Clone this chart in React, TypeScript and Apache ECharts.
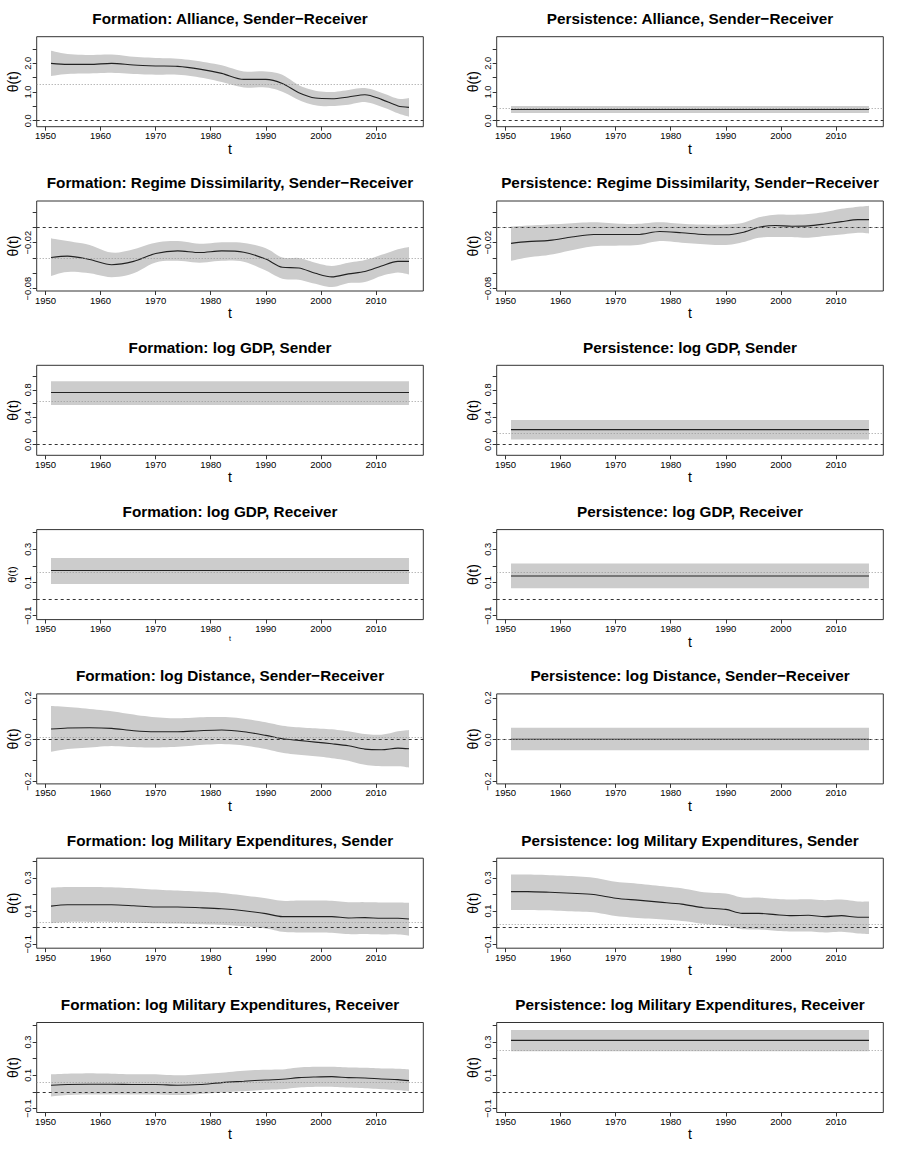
import React, { useEffect, useRef } from "react";
import * as echarts from "echarts";

// ---------------- data ----------------
const years = [1951, 1954, 1958, 1962, 1966, 1970, 1974, 1978, 1982, 1986, 1990, 1993, 1996, 1999, 2002, 2005, 2008, 2011, 2014, 2016];
const yearsFlat = [1951, 2016];
const xTicks = [1950, 1960, 1970, 1980, 1990, 2000, 2010];

const titles = [
  "Formation: Alliance, Sender\u2212Receiver",
  "Persistence: Alliance, Sender\u2212Receiver",
  "Formation: Regime Dissimilarity, Sender\u2212Receiver",
  "Persistence: Regime Dissimilarity, Sender\u2212Receiver",
  "Formation: log GDP, Sender",
  "Persistence: log GDP, Sender",
  "Formation: log GDP, Receiver",
  "Persistence: log GDP, Receiver",
  "Formation: log Distance, Sender\u2212Receiver",
  "Persistence: log Distance, Sender\u2212Receiver",
  "Formation: log Military Expenditures, Sender",
  "Persistence: log Military Expenditures, Sender",
  "Formation: log Military Expenditures, Receiver",
  "Persistence: log Military Expenditures, Receiver",
];

const formAllianceEst = [2.0, 1.965, 1.965, 2.0, 1.94, 1.91, 1.895, 1.8, 1.65, 1.44, 1.44, 1.3, 0.977, 0.79, 0.767, 0.826, 0.907, 0.744, 0.512, 0.465];
const formAllianceHi = [2.44, 2.33, 2.29, 2.31, 2.23, 2.19, 2.16, 2.07, 1.93, 1.72, 1.72, 1.6, 1.24, 1.047, 1.0, 1.07, 1.14, 0.977, 0.767, 0.79];
const formAllianceLo = [1.56, 1.63, 1.65, 1.67, 1.63, 1.605, 1.605, 1.51, 1.35, 1.16, 1.16, 1.01, 0.72, 0.535, 0.51, 0.56, 0.65, 0.49, 0.256, 0.14];

const persAllianceEst = [0.39, 0.39];
const persAllianceHi = [0.51, 0.51];
const persAllianceLo = [0.27, 0.27];

const formRegimeEst = [-0.0393, -0.0376, -0.0419, -0.0487, -0.0444, -0.0341, -0.0307, -0.0329, -0.0307, -0.0324, -0.0414, -0.0521, -0.053, -0.0599, -0.0646, -0.0607, -0.0577, -0.0504, -0.0444, -0.0444];
const formRegimeHi = [-0.0144, -0.0179, -0.023, -0.0329, -0.0286, -0.02, -0.0179, -0.0213, -0.0196, -0.0204, -0.0273, -0.0393, -0.0401, -0.0461, -0.0504, -0.0461, -0.0427, -0.0359, -0.0286, -0.0256];
const formRegimeLo = [-0.0633, -0.0581, -0.0599, -0.065, -0.0599, -0.0457, -0.0436, -0.0461, -0.0436, -0.0449, -0.0564, -0.0671, -0.0684, -0.0736, -0.0779, -0.0727, -0.0714, -0.0633, -0.059, -0.0616];

const persRegimeEst = [-0.0209, -0.0187, -0.017, -0.0127, -0.0093, -0.0093, -0.0093, -0.0054, -0.0071, -0.0093, -0.0097, -0.0067, 0.0001, 0.0023, 0.0014, 0.0019, 0.0044, 0.0074, 0.01, 0.01];
const persRegimeHi = [0.001, 0.0023, 0.0036, 0.0053, 0.0066, 0.0049, 0.0045, 0.0066, 0.0045, 0.0036, 0.0036, 0.0057, 0.013, 0.0164, 0.0164, 0.0173, 0.0199, 0.0241, 0.0267, 0.028];
const persRegimeLo = [-0.0436, -0.0393, -0.0359, -0.0299, -0.0247, -0.0239, -0.023, -0.0179, -0.02, -0.0221, -0.023, -0.0196, -0.0136, -0.0127, -0.0127, -0.0136, -0.0114, -0.0093, -0.0071, -0.008];

const formGdpSenderEst = [0.761, 0.761];
const formGdpSenderHi = [0.925, 0.925];
const formGdpSenderLo = [0.578, 0.578];

const persGdpSenderEst = [0.217, 0.217];
const persGdpSenderHi = [0.357, 0.357];
const persGdpSenderLo = [0.072, 0.072];

const formGdpReceiverEst = [0.172, 0.172];
const formGdpReceiverHi = [0.247, 0.247];
const formGdpReceiverLo = [0.09, 0.09];

const persGdpReceiverEst = [0.139, 0.139];
const persGdpReceiverHi = [0.214, 0.214];
const persGdpReceiverLo = [0.065, 0.065];

const formDistanceEst = [0.0512, 0.056, 0.0576, 0.0544, 0.0432, 0.0384, 0.0384, 0.0432, 0.0464, 0.0384, 0.0208, 0.0048, -0.0032, -0.0112, -0.0192, -0.0288, -0.0448, -0.048, -0.04, -0.0432];
const formDistanceHi = [0.1616, 0.1568, 0.1472, 0.136, 0.12, 0.1072, 0.1024, 0.1072, 0.1088, 0.1008, 0.0832, 0.0672, 0.0592, 0.0544, 0.0496, 0.04, 0.0272, 0.024, 0.04, 0.0464];
const formDistanceLo = [-0.0576, -0.0448, -0.0368, -0.0304, -0.0352, -0.0368, -0.0336, -0.0256, -0.0208, -0.0272, -0.0448, -0.0624, -0.072, -0.0784, -0.088, -0.1008, -0.12, -0.1264, -0.1264, -0.1328];

const persDistanceEst = [0.002, 0.002];
const persDistanceHi = [0.057, 0.057];
const persDistanceLo = [-0.05, -0.05];

const formMilSenderEst = [0.1297, 0.1376, 0.1376, 0.1376, 0.1317, 0.1238, 0.1238, 0.1198, 0.1139, 0.102, 0.0842, 0.0663, 0.0663, 0.0663, 0.0663, 0.0584, 0.0604, 0.0564, 0.0564, 0.0525];
const formMilSenderHi = [0.2406, 0.2446, 0.2446, 0.2426, 0.2366, 0.2287, 0.2228, 0.2168, 0.2089, 0.1931, 0.1772, 0.1614, 0.1634, 0.1634, 0.1614, 0.1535, 0.1535, 0.1515, 0.1515, 0.1495];
const formMilSenderLo = [0.0267, 0.0347, 0.0347, 0.0347, 0.0307, 0.0267, 0.0248, 0.0208, 0.0168, 0.0089, -0.005, -0.0248, -0.0287, -0.0287, -0.0307, -0.0386, -0.0386, -0.0406, -0.0406, -0.0485];

const persMilSenderEst = [0.2168, 0.2168, 0.2129, 0.2069, 0.199, 0.1772, 0.1653, 0.1535, 0.1416, 0.1198, 0.1099, 0.0861, 0.0861, 0.0782, 0.0723, 0.0743, 0.0663, 0.0723, 0.0624, 0.0624];
const persMilSenderHi = [0.3198, 0.3198, 0.3158, 0.3099, 0.3, 0.2762, 0.2644, 0.2505, 0.2366, 0.2129, 0.205, 0.1812, 0.1812, 0.1733, 0.1693, 0.1713, 0.1653, 0.1693, 0.1574, 0.1574];
const persMilSenderLo = [0.1059, 0.1059, 0.104, 0.098, 0.0921, 0.0703, 0.0584, 0.0505, 0.0406, 0.0228, 0.0109, -0.0089, -0.0109, -0.0188, -0.0228, -0.0228, -0.0287, -0.0248, -0.0347, -0.0386];

const formMilReceiverEst = [0.0406, 0.0446, 0.0465, 0.0465, 0.0446, 0.0446, 0.0406, 0.0446, 0.0564, 0.0644, 0.0723, 0.0762, 0.0861, 0.0901, 0.0921, 0.0861, 0.0842, 0.0782, 0.0743, 0.0683];
const formMilReceiverHi = [0.1059, 0.1099, 0.1119, 0.1099, 0.1059, 0.1059, 0.1, 0.1059, 0.1158, 0.1277, 0.1337, 0.1356, 0.1475, 0.1515, 0.1515, 0.1475, 0.1455, 0.1416, 0.1396, 0.1356];
const formMilReceiverLo = [-0.0267, -0.0188, -0.0149, -0.0149, -0.0149, -0.0149, -0.0188, -0.0129, -0.003, 0.005, 0.0129, 0.0168, 0.0267, 0.0307, 0.0307, 0.0267, 0.0228, 0.0168, 0.0109, 0.005];

const persMilReceiverEst = [0.31, 0.31];
const persMilReceiverHi = [0.372, 0.372];
const persMilReceiverLo = [0.245, 0.245];

// dotted reference line (average effect) per panel
const dottedMeans = [1.267, 0.43, -0.0427, -0.001, 0.636, 0.169, 0.159, 0.161, 0.0128, 0.003, 0.0347, 0.0248, 0.0624, 0.25];

// y-axis per row
const rowYMin = [-0.21, -0.083, -0.158, -0.1235, -0.211, -0.1235, -0.1235];
const rowYMax = [2.93, 0.0343, 1.159, 0.4176, 0.219, 0.4176, 0.4176];
const rowTicks = [
  [0, 0.5, 1, 1.5, 2, 2.5],
  [-0.08, -0.06, -0.04, -0.02, 0, 0.02],
  [0, 0.2, 0.4, 0.6, 0.8, 1.0],
  [-0.1, 0, 0.1, 0.2, 0.3, 0.4],
  [-0.2, -0.1, 0, 0.1, 0.2],
  [-0.1, 0, 0.1, 0.2, 0.3, 0.4],
  [-0.1, 0, 0.1, 0.2, 0.3, 0.4],
];
const rowLabels = [
  [0, 1, 2],
  [-0.08, -0.02],
  [0, 0.4, 0.8],
  [-0.1, 0.1, 0.3],
  [-0.2, 0, 0.2],
  [-0.1, 0.1, 0.3],
  [-0.1, 0.1, 0.3],
];
const rowDecimals = [1, 2, 1, 1, 1, 1, 1];

const panels = [
  { x: years, est: formAllianceEst, lo: formAllianceLo, hi: formAllianceHi },
  { x: yearsFlat, est: persAllianceEst, lo: persAllianceLo, hi: persAllianceHi },
  { x: years, est: formRegimeEst, lo: formRegimeLo, hi: formRegimeHi },
  { x: years, est: persRegimeEst, lo: persRegimeLo, hi: persRegimeHi },
  { x: yearsFlat, est: formGdpSenderEst, lo: formGdpSenderLo, hi: formGdpSenderHi },
  { x: yearsFlat, est: persGdpSenderEst, lo: persGdpSenderLo, hi: persGdpSenderHi },
  { x: yearsFlat, est: formGdpReceiverEst, lo: formGdpReceiverLo, hi: formGdpReceiverHi },
  { x: yearsFlat, est: persGdpReceiverEst, lo: persGdpReceiverLo, hi: persGdpReceiverHi },
  { x: years, est: formDistanceEst, lo: formDistanceLo, hi: formDistanceHi },
  { x: yearsFlat, est: persDistanceEst, lo: persDistanceLo, hi: persDistanceHi },
  { x: years, est: formMilSenderEst, lo: formMilSenderLo, hi: formMilSenderHi },
  { x: years, est: persMilSenderEst, lo: persMilSenderLo, hi: persMilSenderHi },
  { x: years, est: formMilReceiverEst, lo: formMilReceiverLo, hi: formMilReceiverHi },
  { x: yearsFlat, est: persMilReceiverEst, lo: persMilReceiverLo, hi: persMilReceiverHi },
];

// ---------------- layout ----------------
const FONT = "'Liberation Sans', Arial, Helvetica, sans-serif";
const COL_W = 460;
const ROW_H = 164.3;
const BOX_LEFT = 36.7;
const BOX_TOP = 36.7;
const BOX_W = 386.6;
const BOX_H = 90;

function fmt(v: number, d: number) {
  const s = v.toFixed(d);
  return s.startsWith("-") ? "\u2212" + s.slice(1) : s;
}

// Catmull-Rom smoothing of a pixel polyline (for the band edges)
function smoothPts(pts: number[][]) {
  if (pts.length < 3) return pts;
  const out: number[][] = [];
  for (let i = 0; i < pts.length - 1; i++) {
    const p0 = pts[Math.max(0, i - 1)];
    const p1 = pts[i];
    const p2 = pts[i + 1];
    const p3 = pts[Math.min(pts.length - 1, i + 2)];
    const steps = 6;
    for (let s = 0; s < steps; s++) {
      const t = s / steps;
      const t2 = t * t;
      const t3 = t2 * t;
      const x = 0.5 * (2 * p1[0] + (-p0[0] + p2[0]) * t + (2 * p0[0] - 5 * p1[0] + 4 * p2[0] - p3[0]) * t2 + (-p0[0] + 3 * p1[0] - 3 * p2[0] + p3[0]) * t3);
      const y = 0.5 * (2 * p1[1] + (-p0[1] + p2[1]) * t + (2 * p0[1] - 5 * p1[1] + 4 * p2[1] - p3[1]) * t2 + (-p0[1] + 3 * p1[1] - 3 * p2[1] + p3[1]) * t3);
      out.push([x, y]);
    }
  }
  out.push(pts[pts.length - 1]);
  return out;
}

function buildOption() {
  const grid: any[] = [];
  const xAxis: any[] = [];
  const yAxis: any[] = [];
  const series: any[] = [];
  const graphic: any[] = [];

  panels.forEach((p, i) => {
    const r = Math.floor(i / 2);
    const c = i % 2;
    const left = BOX_LEFT + COL_W * c;
    const top = BOX_TOP + ROW_H * r;
    const small = i === 6;

    grid.push({
      left,
      top,
      width: BOX_W,
      height: BOX_H,
      show: true,
      borderColor: "#333",
      borderWidth: 1,
      backgroundColor: "transparent",
      containLabel: false,
      outerBoundsMode: "none",
    });

    xAxis.push({
      gridIndex: i,
      type: "value",
      min: 1948.4,
      max: 2018.6,
      axisLine: { show: false, onZero: false },
      axisTick: { show: true, customValues: xTicks, length: 4, lineStyle: { color: "#333", width: 1 } },
      axisLabel: {
        customValues: xTicks,
        fontSize: 9.5,
        color: "#000",
        margin: 4,
        fontFamily: FONT,
        formatter: (v: number) => String(Math.round(v)),
      },
      splitLine: { show: false },
      name: "t",
      nameLocation: "middle",
      nameGap: small ? 13 : 11,
      nameTextStyle: { fontSize: small ? 7 : 14, color: "#000", fontFamily: FONT },
    });

    const d = rowDecimals[r];
    yAxis.push({
      gridIndex: i,
      type: "value",
      min: rowYMin[r],
      max: rowYMax[r],
      axisLine: { show: false, onZero: false },
      axisTick: { show: true, customValues: rowTicks[r], length: 4, lineStyle: { color: "#333", width: 1 } },
      axisLabel: {
        customValues: rowLabels[r],
        rotate: 90,
        fontSize: 9.3,
        color: "#000",
        margin: 4,
        fontFamily: FONT,
        formatter: (v: number) => fmt(v, d),
      },
      splitLine: { show: false },
      name: "\u03b8(t)",
      nameLocation: "middle",
      nameGap: small ? 19 : 17,
      nameTextStyle: { fontSize: small ? 11 : 14, color: "#000", fontFamily: FONT },
    });

    const bandData = p.x.map((t, k) => [t, p.lo[k], p.hi[k]]);
    series.push({
      type: "custom",
      xAxisIndex: i,
      yAxisIndex: i,
      data: bandData,
      encode: { x: 0, y: [1, 2] },
      silent: true,
      z: 1,
      renderItem: (params: any, api: any) => {
        if (params.dataIndex !== 0) return null;
        const upper = bandData.map((dd) => api.coord([dd[0], dd[2]]));
        const lower = bandData.map((dd) => api.coord([dd[0], dd[1]]));
        const pts = smoothPts(upper).concat(smoothPts(lower).reverse());
        return {
          type: "polygon",
          shape: { points: pts },
          style: { fill: "#cccccc", stroke: "none" },
        };
      },
    });
    series.push({
      type: "line",
      xAxisIndex: i,
      yAxisIndex: i,
      data: p.x.map((t, k) => [t, p.est[k]]),
      symbol: "none",
      smooth: 0.3,
      silent: true,
      lineStyle: { color: "#222", width: 1.1 },
      z: 3,
      markLine: {
        silent: true,
        symbol: ["none", "none"],
        label: { show: false },
        data: [
          { yAxis: 0, lineStyle: { color: "#333", type: [3, 3], width: 1 } },
          { yAxis: dottedMeans[i], lineStyle: { color: "#999", type: [1, 2], width: 1 } },
        ],
      },
    });

    graphic.push({
      type: "text",
      x: COL_W * c + 230,
      y: ROW_H * r + 18.5,
      style: {
        text: titles[i],
        align: "center",
        verticalAlign: "middle",
        font: `bold 15.3px ${FONT}`,
        fill: "#000",
      },
    });
  });

  return {
    animation: false,
    backgroundColor: "#ffffff",
    grid,
    xAxis,
    yAxis,
    series,
    graphic,
  };
}

export default function App() {
  const ref = useRef<HTMLDivElement>(null);
  useEffect(() => {
    document.body.style.margin = "0";
    if (!ref.current) return;
    const chart = echarts.init(ref.current, undefined, { renderer: "svg" });
    chart.setOption(buildOption() as any);
    return () => chart.dispose();
  }, []);
  return (
    <div
      ref={ref}
      style={{ position: "absolute", left: 0, top: 0, width: 920, height: 1150 }}
    />
  );
}
